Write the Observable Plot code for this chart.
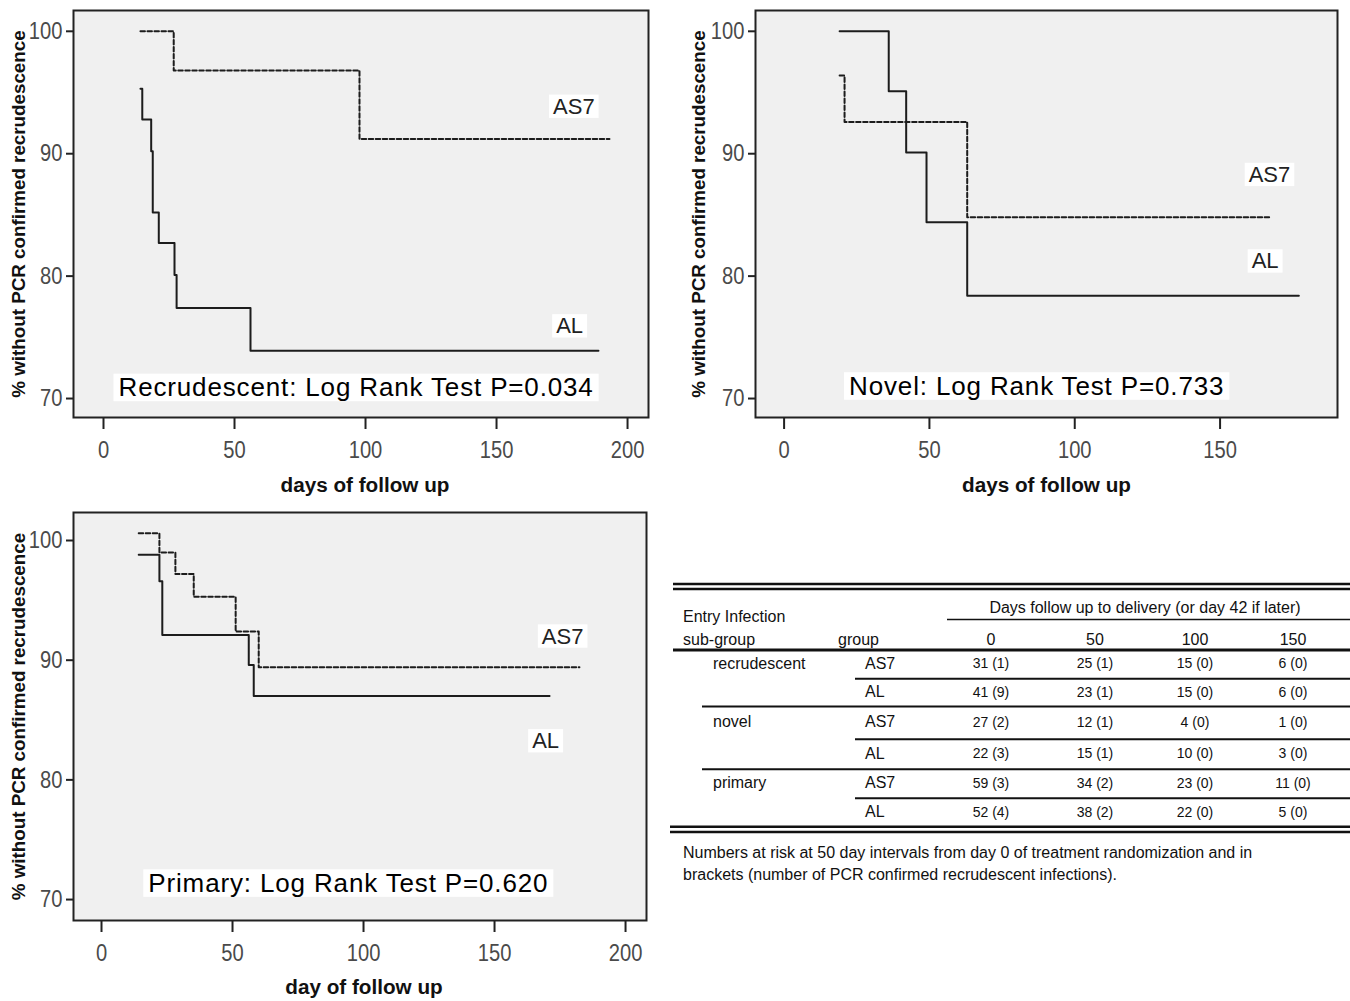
<!DOCTYPE html>
<html>
<head>
<meta charset="utf-8">
<script src="https://cdn.jsdelivr.net/npm/d3@7"></script>
<script src="https://cdn.jsdelivr.net/npm/@observablehq/plot@0.6"></script>
<style>
  html, body { margin: 0; padding: 0; background: #fff; }
  body { width: 1350px; height: 1001px; position: relative; overflow: hidden; font-family: "Liberation Sans", Arial, sans-serif; }
  .panel { position: absolute; }
  .panel svg { overflow: visible; }
</style>
</head>
<body>
<div id="p1" class="panel" style="left:0;top:0"></div>
<div id="p2" class="panel" style="left:680px;top:0"></div>
<div id="p3" class="panel" style="left:0;top:500px"></div>
<div id="tbl" class="panel" style="left:0;top:0"></div>
<script>
// ---------- data ----------
const recrudAS7Day = [14.1, 26.8, 97.7, 193.1];
const recrudAS7Pct = [100, 96.8, 91.2, 91.2];
const recrudALDay  = [14.1, 14.8, 18.2, 18.8, 21.1, 27.1, 27.9, 56.1, 188.9];
const recrudALPct  = [95.3, 92.8, 90.2, 85.2, 82.7, 80.1, 77.4, 73.9, 73.9];

const novelAS7Day = [19.1, 20.8, 63.0, 167.3];
const novelAS7Pct = [96.4, 92.6, 84.8, 84.8];
const novelALDay  = [19.1, 36.0, 42.0, 49.0, 63.0, 177.1];
const novelALPct  = [100, 95.1, 90.1, 84.4, 78.4, 78.4];

const primaryAS7Day = [14.2, 22.1, 28.2, 35.2, 51.2, 60.0, 182.4];
const primaryAS7Pct = [100.6, 99.0, 97.2, 95.3, 92.4, 89.4, 89.4];
const primaryALDay  = [14.2, 22.1, 23.2, 56.2, 58.1, 171.0];
const primaryALPct  = [98.8, 96.6, 92.1, 89.6, 87.0, 87.0];

const yTicks = [70, 80, 90, 100];
const xTicksWide = [0, 50, 100, 150, 200];
const xTicksNovel = [0, 50, 100, 150];

const groupNames = ["AS7", "AL"];
const panelTitles = ["Recrudescent: Log Rank Test P=0.034", "Novel: Log Rank Test P=0.733", "Primary: Log Rank Test P=0.620"];
const yTitle = "% without PCR confirmed recrudescence";
const xTitles = ["days of follow up", "days of follow up", "day of follow up"];

// table data
const tableSubgroups = ["recrudescent", "novel", "primary"];
const tableDays = [0, 50, 100, 150];
const riskN = [[31, 25, 15, 6], [41, 23, 15, 6], [27, 12, 4, 1], [22, 15, 10, 3], [59, 34, 23, 11], [52, 38, 22, 5]];
const riskEvents = [[1, 1, 0, 0], [9, 1, 0, 0], [2, 1, 0, 0], [3, 1, 0, 0], [3, 2, 0, 0], [4, 2, 0, 0]];
const tableHeader = ["Entry Infection", "sub-group", "group", "Days follow up to delivery (or day 42 if later)"];
const tableNote = ["Numbers at risk at 50 day intervals from day 0 of treatment randomization and in",
                   "brackets (number of PCR confirmed recrudescent infections)."];

// ---------- drawing ----------
const zip = (d, p) => d.map((v, i) => ({day: v, pct: p[i]}));
const SANS = '"Liberation Sans", Arial, sans-serif';
const INK = "#1c1c1c";

function squeeze(t, s) {
  const tr = t.getAttribute("transform");
  const x = t.getAttribute("x");
  if (x != null) t.setAttribute("x", +x / s);
  t.setAttribute("transform", (tr ? tr + " " : "") + `scale(${s},1)`);
}

function boxLabels(svg) {
  svg.querySelectorAll('text[aria-label="boxedTitle"]').forEach(t => { t.style.letterSpacing = "0.85px"; });
  svg.querySelectorAll('text[aria-label="boxed"], text[aria-label="boxedTitle"]').forEach(t => {
    const b = t.getBBox();
    const fs = parseFloat(getComputedStyle(t).fontSize);
    const r = document.createElementNS("http://www.w3.org/2000/svg", "rect");
    const cy = b.y + b.height / 2;
    const padX = t.getAttribute("aria-label") === "boxedTitle" ? 5 : 4;
    r.setAttribute("x", b.x - padX);
    r.setAttribute("width", b.width + 2 * padX);
    r.setAttribute("y", cy - fs * 0.53);
    r.setAttribute("height", fs * 1.06);
    r.setAttribute("fill", "#ffffff");
    if (t.getAttribute("transform")) r.setAttribute("transform", t.getAttribute("transform"));
    t.parentNode.insertBefore(r, t);
  });
  svg.querySelectorAll('g[aria-label="x-axis tick label"] text, g[aria-label="y-axis tick label"] text')
    .forEach(t => squeeze(t, 0.84));
}

function panel(el, cfg) {
  const as7 = zip(cfg.as7Day, cfg.as7Pct);
  const al = zip(cfg.alDay, cfg.alPct);
  const labels = [
    {t: groupNames[0], day: cfg.lab[0][0], pct: cfg.lab[0][1]},
    {t: groupNames[1], day: cfg.lab[1][0], pct: cfg.lab[1][1]}
  ];
  const titles = [{t: cfg.title, day: cfg.titlePos[0], pct: cfg.titlePos[1]}];
  const svg = Plot.plot({
    width: 670, height: 500,
    marginLeft: cfg.ml, marginRight: cfg.mr, marginTop: cfg.mt, marginBottom: cfg.mb,
    x: {domain: cfg.xDomain},
    y: {domain: cfg.yDomain},
    style: {fontFamily: SANS, background: "transparent", color: INK},
    marks: [
      Plot.frame({fill: "#f0f0f0", stroke: null}),
      Plot.line(as7, {x: "day", y: "pct", curve: "step-after", stroke: INK, strokeWidth: 2, strokeDasharray: "4.5,2.5"}),
      Plot.line(al, {x: "day", y: "pct", curve: "step-after", stroke: INK, strokeWidth: 2}),
      Plot.text(labels, {x: "day", y: "pct", text: "t", fontSize: 22, fill: "#222", fontFamily: SANS, ariaLabel: () => "boxed"}),
      Plot.text(titles, {x: "day", y: "pct", text: "t", fontSize: 26, fill: "#000", fontFamily: SANS, ariaLabel: () => "boxedTitle"}),
      Plot.frame({stroke: "#222", strokeWidth: 2}),
      Plot.axisY({ticks: yTicks, tickSize: 7, tickPadding: 4, fontSize: 24, fontFamily: SANS, fill: "#4a4a4a", stroke: "#222", strokeWidth: 2, label: null}),
      Plot.axisX({ticks: cfg.xTicks, tickSize: 12, tickPadding: 11, fontSize: 24, fontFamily: SANS, fill: "#4a4a4a", stroke: "#222", strokeWidth: 2, label: null}),
      Plot.text([yTitle], {frameAnchor: "left", textAnchor: "middle", lineAnchor: "middle", rotate: -90, dx: cfg.ytDx, fontSize: 18.8, fontWeight: "bold", fill: "#111", fontFamily: SANS}),
      Plot.text([cfg.xTitle], {frameAnchor: "bottom", textAnchor: "middle", lineAnchor: "middle", dy: cfg.xtDy, dx: cfg.xtDx, fontSize: 20.7, fontWeight: "bold", fill: "#111", fontFamily: SANS})
    ]
  });
  el.appendChild(svg);
  boxLabels(svg);
}

panel(document.getElementById("p1"), {
  as7Day: recrudAS7Day, as7Pct: recrudAS7Pct, alDay: recrudALDay, alPct: recrudALPct,
  ml: 73, mr: 22, mt: 10, mb: 83,
  xDomain: [-11.45, 208], yDomain: [68.45, 101.7], xTicks: xTicksWide,
  lab: [[179.5, 93.84], [177.9, 75.9]], title: panelTitles[0], titlePos: [96.4, 70.85],
  xTitle: xTitles[0], ytDx: -55, xtDy: 68, xtDx: 4
});
panel(document.getElementById("p2"), {
  as7Day: novelAS7Day, as7Pct: novelAS7Pct, alDay: novelALDay, alPct: novelALPct,
  ml: 75, mr: 13, mt: 10, mb: 83,
  xDomain: [-9.84, 190.4], yDomain: [68.45, 101.7], xTicks: xTicksNovel,
  lab: [[167.0, 88.27], [165.5, 81.2]], title: panelTitles[1], titlePos: [86.9, 70.97],
  xTitle: xTitles[1], ytDx: -57, xtDy: 68, xtDx: 0
});
panel(document.getElementById("p3"), {
  as7Day: primaryAS7Day, as7Pct: primaryAS7Pct, alDay: primaryALDay, alPct: primaryALPct,
  ml: 73, mr: 24, mt: 12, mb: 80,
  xDomain: [-10.69, 208], yDomain: [68.25, 102.34], xTicks: xTicksWide,
  lab: [[176.0, 91.98], [169.5, 83.23]], title: panelTitles[2], titlePos: [94.2, 71.32],
  xTitle: xTitles[2], ytDx: -55, xtDy: 67, xtDx: 4
});

// ---------- table ----------
(function drawTable() {
  const svg = d3.select("#tbl").append("svg")
    .attr("width", 1350).attr("height", 1001)
    .style("position", "absolute").style("left", 0).style("top", 0)
    .style("font-family", SANS);
  const rule = (y, x1, x2, w) => svg.append("line").attr("x1", x1).attr("x2", x2).attr("y1", y).attr("y2", y)
    .attr("stroke", "#111").attr("stroke-width", w);
  const text = (s, x, y, fs, anchor) => svg.append("text").attr("x", x).attr("y", y)
    .attr("font-size", fs).attr("fill", "#111").attr("text-anchor", anchor || "start").text(s);

  const R = 1350;
  rule(584, 673, R, 2.5); rule(589, 673, R, 2.5);
  text(tableHeader[0], 683, 622, 16);
  text(tableHeader[1], 683, 645, 16);
  text(tableHeader[2], 838, 645, 16);
  text(tableHeader[3], 1145, 613, 16, "middle");
  rule(619.5, 947, R, 1.5);
  const colX = [991, 1095, 1195, 1293];
  tableDays.forEach((d, i) => text(String(d), colX[i], 645, 16, "middle"));
  rule(650, 673, R, 3);

  const lines = [650, 678.7, 706.5, 739.3, 769.3, 798.3, 826.7];
  for (let r = 0; r < 6; r++) {
    const cy = (lines[r] + lines[r + 1]) / 2 - 1;
    if (r % 2 === 0) text(tableSubgroups[r / 2], 713, cy + 5.5, 16);
    text(groupNames[r % 2], 865, cy + 5.5, 16);
    for (let c = 0; c < 4; c++) text(`${riskN[r][c]} (${riskEvents[r][c]})`, colX[c], cy + 5, 14, "middle");
    if (r < 5) rule(lines[r + 1], r % 2 === 0 ? 855 : 702, R, 2);
  }
  rule(826.7, 670, R, 2.5); rule(832, 670, R, 2.5);
  text(tableNote[0], 683, 858, 16);
  text(tableNote[1], 683, 879.5, 16);
})();
</script>
</body>
</html>
